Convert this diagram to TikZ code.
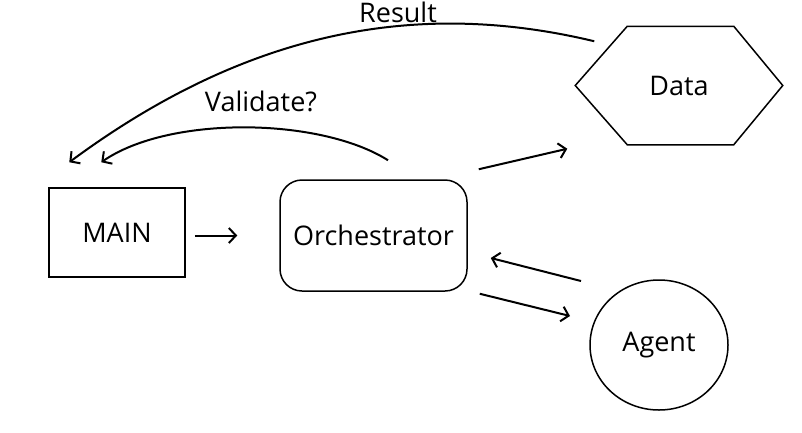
\documentclass[tikz,border=0pt]{standalone}
\usepackage{fontspec}
\setmainfont{Open Sans}
\usetikzlibrary{arrows.meta,shapes.geometric}

\begin{document}
\begin{tikzpicture}[
  box/.style={draw, line width=1.5pt, font=\fontsize{27}{31}\selectfont, inner sep=0pt},
  flow/.style={line width=2pt, -{Straight Barb[length=7pt,width=15pt]}},
  lbl/.style={font=\fontsize{27}{31}\selectfont, inner sep=0pt}
]
\useasboundingbox (0pt,0pt) rectangle (802pt,-432pt);
\node[box, minimum width=136pt, minimum height=89pt] (main) at (117pt,-232.5pt) {MAIN};
\node[box, rounded corners=22pt, minimum width=187pt, minimum height=111pt] (orch) at (373.5pt,-235.5pt) {Orchestrator};
\node[box, draw=none, minimum width=206pt, minimum height=117pt] (data) at (679pt,-85.5pt) {Data};
\draw[line width=1.5pt] (data.west) -- ([xshift=52pt]data.north west) -- ([xshift=-49pt]data.north east)
  -- (data.east) -- ([xshift=-49pt]data.south east) -- ([xshift=52pt]data.south west) -- cycle;
\node[box, ellipse, minimum width=138pt, minimum height=130pt] (agent) at (659pt,-345pt) {Agent};
\draw[flow] ([shift={(9pt,-3pt)}]main.east) -- ([xshift=-42pt]orch.west);
\draw[flow] ([shift={(11pt,10pt)}]orch.north east) -- ([shift={(-8pt,-4pt)}]data.south west);
\draw[flow] ([shift={(-78pt,64pt)}]agent.center) -- ([shift={(23pt,-22.5pt)}]orch.east);
\draw[flow] ([shift={(12pt,-2pt)}]orch.south east) -- ([shift={(-89pt,29pt)}]agent.center);
\draw[flow] ([shift={(14.5pt,19pt)}]orch.north) .. controls +(-68pt,43pt) and +(68pt,47pt) .. ([shift={(53pt,25pt)}]main.north west);
\draw[flow] ([shift={(19pt,-15pt)}]data.north west) .. controls +(-175pt,42pt) and +(180pt,133pt) .. ([shift={(21pt,25pt)}]main.north west);
\node[lbl] (validate) at (261pt,-101pt) {Validate?};
\node[lbl] (result) at (398pt,-12pt) {Result};
\end{tikzpicture}
\end{document}
